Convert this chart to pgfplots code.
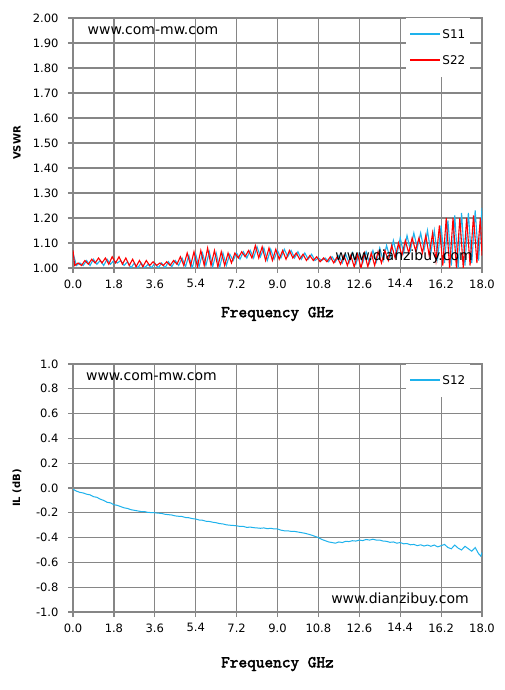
\documentclass[border=0pt]{standalone}
\usepackage{fontspec}
\setmainfont{DejaVu Sans}
\newfontfamily\lblmono{lmmono10-regular.otf}[FakeBold=2.5]
\usepackage{pgfplots}
\pgfplotsset{compat=1.18}
\definecolor{gridgray}{RGB}{134,134,134}
\definecolor{sone}{RGB}{30,178,236}
\definecolor{stwo}{RGB}{255,0,0}
\pgfplotsset{
  common/.style={
    scale only axis, width=409pt,
    xmin=0, xmax=18,
    xtick={0,1.8,3.6,5.4,7.2,9,10.8,12.6,14.4,16.2,18},
    grid=major,
    major grid style={gridgray, line width=1.2pt},
    axis line style={gridgray, line width=1.2pt},
    tick style={gridgray, line width=1.2pt},
    tick align=outside, major tick length=5pt,
    xtick pos=left, ytick pos=left,
    tick label style={font=\fontsize{11.5}{12}\selectfont, text=black},
    /pgf/number format/assume math mode=true,
    xticklabel style={yshift=-3pt, /pgf/number format/fixed, /pgf/number format/fixed zerofill, /pgf/number format/precision=1},
    yticklabel style={xshift=-6pt},
    xlabel={Frequency GHz},
    xlabel style={font=\lblmono\fontsize{16.5}{17}\selectfont, text=black},
    ylabel style={font=\bfseries\fontsize{10}{11}\selectfont, text=black},
    legend cell align=left,
    legend image code/.code={\draw[#1, line width=1.5pt] (0pt,0.5pt) -- (30pt,0.5pt);},
    legend style={draw=none, fill=white, anchor=north east,
      font=\fontsize{12}{13}\selectfont, inner xsep=3pt, inner ysep=9.5pt,
      row sep=12.5pt, nodes={inner sep=1.5pt}},
  }
}
\begin{document}
\begin{tikzpicture}[x=1pt,y=1pt]
\path[use as bounding box, fill=white] (0,0) rectangle (504,690);
\begin{axis}[common, at={(73pt,422pt)}, anchor=south west, height=250pt,
  ymin=1, ymax=2, ytick={1,1.1,1.2,1.3,1.4,1.5,1.6,1.7,1.8,1.9,2},
  yticklabel style={/pgf/number format/fixed, /pgf/number format/fixed zerofill, /pgf/number format/precision=2},
  ylabel={VSWR},
  ylabel style={at={(axis description cs:-0.137,0.5)}, rotate=0, anchor=center},
  xlabel style={at={(axis description cs:0.5,-0.184)}, anchor=center},
  legend style={at={(0.9707,1)}},
]
\addplot[sone, line width=1.1pt] coordinates {
(0.00,1.06) (0.15,1.01) (0.30,1.02) (0.45,1.01) (0.60,1.03) (0.75,1.01) (0.90,1.035) (1.05,1.015)
(1.20,1.03) (1.35,1.01) (1.50,1.035) (1.65,1.015) (1.80,1.03) (1.95,1.02) (2.10,1.03) (2.25,1.01)
(2.40,1.025) (2.55,1.00) (2.70,1.02) (2.85,1.00) (3.00,1.02) (3.15,1.00) (3.30,1.015) (3.45,1.00)
(3.60,1.02) (3.75,1.00) (3.90,1.02) (4.05,1.00) (4.20,1.025) (4.35,1.005) (4.50,1.03) (4.65,1.01)
(4.80,1.04) (4.95,1.005) (5.10,1.05) (5.25,1.00) (5.40,1.055) (5.55,1.005) (5.70,1.06) (5.85,1.01)
(6.00,1.065) (6.15,1.005) (6.30,1.06) (6.45,1.00) (6.60,1.06) (6.75,1.01) (6.90,1.055) (7.05,1.03)
(7.20,1.06) (7.35,1.035) (7.50,1.065) (7.65,1.04) (7.80,1.07) (7.95,1.04) (8.10,1.085) (8.25,1.045)
(8.40,1.08) (8.55,1.03) (8.70,1.075) (8.85,1.035) (9.00,1.07) (9.15,1.04) (9.30,1.075) (9.45,1.045)
(9.60,1.07) (9.75,1.04) (9.90,1.065) (10.05,1.035) (10.20,1.06) (10.35,1.035) (10.50,1.055) (10.65,1.03)
(10.80,1.04) (10.95,1.03) (11.10,1.04) (11.25,1.025) (11.40,1.045) (11.55,1.025) (11.70,1.05) (11.85,1.02)
(12.00,1.055) (12.15,1.02) (12.30,1.06) (12.45,1.015) (12.60,1.06) (12.75,1.02) (12.90,1.065) (13.05,1.02)
(13.20,1.07) (13.35,1.025) (13.50,1.08) (13.65,1.03) (13.80,1.09) (13.95,1.04) (14.10,1.11) (14.25,1.05)
(14.40,1.12) (14.55,1.06) (14.70,1.13) (14.85,1.07) (15.00,1.14) (15.15,1.08) (15.30,1.14) (15.45,1.07)
(15.60,1.15) (15.75,1.06) (15.90,1.15) (16.05,1.04) (16.20,1.17) (16.35,1.02) (16.50,1.19) (16.65,1.01)
(16.80,1.21) (16.95,1.00) (17.10,1.22) (17.25,1.01) (17.40,1.22) (17.55,1.02) (17.70,1.23) (17.85,1.03)
(18.00,1.24)
};
\addlegendentry{S11}
\addplot[stwo, line width=1.1pt] coordinates {
(0.00,1.07) (0.075,1.01) (0.225,1.02) (0.375,1.01) (0.525,1.03) (0.675,1.015) (0.825,1.035) (0.975,1.02)
(1.125,1.04) (1.275,1.02) (1.425,1.04) (1.575,1.015) (1.725,1.045) (1.875,1.02) (2.025,1.045) (2.175,1.015)
(2.325,1.04) (2.475,1.01) (2.625,1.035) (2.775,1.005) (2.925,1.03) (3.075,1.005) (3.225,1.03) (3.375,1.01)
(3.525,1.025) (3.675,1.01) (3.825,1.02) (3.975,1.01) (4.125,1.025) (4.275,1.01) (4.425,1.03) (4.575,1.015)
(4.725,1.045) (4.875,1.01) (5.025,1.06) (5.175,1.01) (5.325,1.065) (5.475,1.005) (5.625,1.07) (5.775,1.01)
(5.925,1.08) (6.075,1.01) (6.225,1.07) (6.375,1.005) (6.525,1.065) (6.675,1.01) (6.825,1.06) (6.975,1.02)
(7.125,1.06) (7.275,1.04) (7.425,1.065) (7.575,1.045) (7.725,1.07) (7.875,1.04) (8.025,1.09) (8.175,1.04)
(8.325,1.085) (8.475,1.03) (8.625,1.08) (8.775,1.03) (8.925,1.075) (9.075,1.035) (9.225,1.07) (9.375,1.035)
(9.525,1.07) (9.675,1.04) (9.825,1.06) (9.975,1.035) (10.125,1.055) (10.275,1.03) (10.425,1.05) (10.575,1.03)
(10.725,1.045) (10.875,1.025) (11.025,1.04) (11.175,1.025) (11.325,1.045) (11.475,1.02) (11.625,1.045) (11.775,1.015)
(11.925,1.05) (12.075,1.01) (12.225,1.05) (12.375,1.005) (12.525,1.055) (12.675,1.00) (12.825,1.06) (12.975,1.005)
(13.125,1.06) (13.275,1.01) (13.425,1.065) (13.575,1.02) (13.725,1.07) (13.875,1.03) (14.025,1.09) (14.175,1.04)
(14.325,1.10) (14.475,1.05) (14.625,1.11) (14.775,1.06) (14.925,1.12) (15.075,1.07) (15.225,1.12) (15.375,1.06)
(15.525,1.13) (15.675,1.05) (15.825,1.14) (15.975,1.03) (16.125,1.17) (16.275,1.01) (16.425,1.20) (16.575,1.00)
(16.725,1.20) (16.875,1.00) (17.025,1.20) (17.175,1.00) (17.325,1.20) (17.475,1.01) (17.625,1.21) (17.775,1.02)
(17.925,1.20) (18.00,1.05)
};
\addlegendentry{S22}
\node[font=\fontsize{14}{14}\selectfont, text=black] at (axis cs:3.52,1.948) {www.com-mw.com};
\node[font=\fontsize{14}{14}\selectfont, text=black] at (axis cs:14.57,1.044) {www.dianzibuy.com};
\end{axis}
\begin{axis}[common, at={(73pt,78pt)}, anchor=south west, height=248pt,
  ymin=-1, ymax=1, ytick={-1,-0.8,-0.6,-0.4,-0.2,0,0.2,0.4,0.6,0.8,1},
  yticklabel style={/pgf/number format/fixed, /pgf/number format/fixed zerofill, /pgf/number format/precision=1},
  ylabel={IL (dB)},
  ylabel style={at={(axis description cs:-0.137,0.5)}, rotate=0, anchor=center},
  xlabel style={at={(axis description cs:0.5,-0.21)}, anchor=center},
  legend style={at={(0.9707,1)}},
]
\addplot[sone, line width=1pt] coordinates {
(0.00,-0.01) (0.15,-0.025) (0.30,-0.035) (0.45,-0.04) (0.60,-0.05) (0.75,-0.055) (0.90,-0.07) (1.05,-0.075)
(1.20,-0.09) (1.35,-0.10) (1.50,-0.115) (1.65,-0.12) (1.80,-0.135) (1.95,-0.14) (2.10,-0.15) (2.25,-0.16)
(2.40,-0.165) (2.55,-0.175) (2.70,-0.18) (2.85,-0.185) (3.00,-0.19) (3.15,-0.19) (3.30,-0.197) (3.45,-0.198)
(3.60,-0.20) (3.75,-0.203) (3.90,-0.205) (4.05,-0.212) (4.20,-0.215) (4.35,-0.218) (4.50,-0.225) (4.65,-0.228)
(4.80,-0.23) (4.95,-0.238) (5.10,-0.24) (5.25,-0.247) (5.40,-0.25) (5.55,-0.258) (5.70,-0.26) (5.85,-0.268)
(6.00,-0.27) (6.15,-0.276) (6.30,-0.28) (6.45,-0.287) (6.60,-0.29) (6.75,-0.297) (6.90,-0.30) (7.05,-0.302)
(7.20,-0.305) (7.35,-0.31) (7.50,-0.31) (7.65,-0.318) (7.80,-0.315) (7.95,-0.32) (8.10,-0.322) (8.25,-0.325)
(8.40,-0.322) (8.55,-0.328) (8.70,-0.325) (8.85,-0.33) (9.00,-0.33) (9.15,-0.34) (9.30,-0.345) (9.45,-0.345)
(9.60,-0.35) (9.75,-0.35) (9.90,-0.355) (10.05,-0.36) (10.20,-0.365) (10.35,-0.372) (10.50,-0.38) (10.65,-0.39)
(10.80,-0.40) (10.95,-0.415) (11.10,-0.425) (11.25,-0.435) (11.40,-0.44) (11.55,-0.445) (11.70,-0.435) (11.85,-0.44)
(12.00,-0.43) (12.15,-0.432) (12.30,-0.425) (12.45,-0.428) (12.60,-0.42) (12.75,-0.424) (12.90,-0.415) (13.05,-0.42)
(13.20,-0.413) (13.35,-0.42) (13.50,-0.42) (13.65,-0.428) (13.80,-0.43) (13.95,-0.438) (14.10,-0.435) (14.25,-0.445)
(14.40,-0.44) (14.55,-0.45) (14.70,-0.448) (14.85,-0.458) (15.00,-0.455) (15.15,-0.465) (15.30,-0.458) (15.45,-0.468)
(15.60,-0.46) (15.75,-0.47) (15.90,-0.46) (16.05,-0.475) (16.20,-0.465) (16.35,-0.455) (16.50,-0.48) (16.65,-0.49)
(16.80,-0.46) (16.95,-0.485) (17.10,-0.50) (17.25,-0.47) (17.40,-0.49) (17.55,-0.51) (17.70,-0.48) (17.85,-0.53)
(17.95,-0.55) (18.00,-0.52)
};
\addlegendentry{S12}
\node[font=\fontsize{14}{14}\selectfont, text=black] at (axis cs:3.45,0.895) {www.com-mw.com};
\node[font=\fontsize{14}{14}\selectfont, text=black] at (axis cs:14.39,-0.903) {www.dianzibuy.com};
\end{axis}
\end{tikzpicture}
\end{document}
